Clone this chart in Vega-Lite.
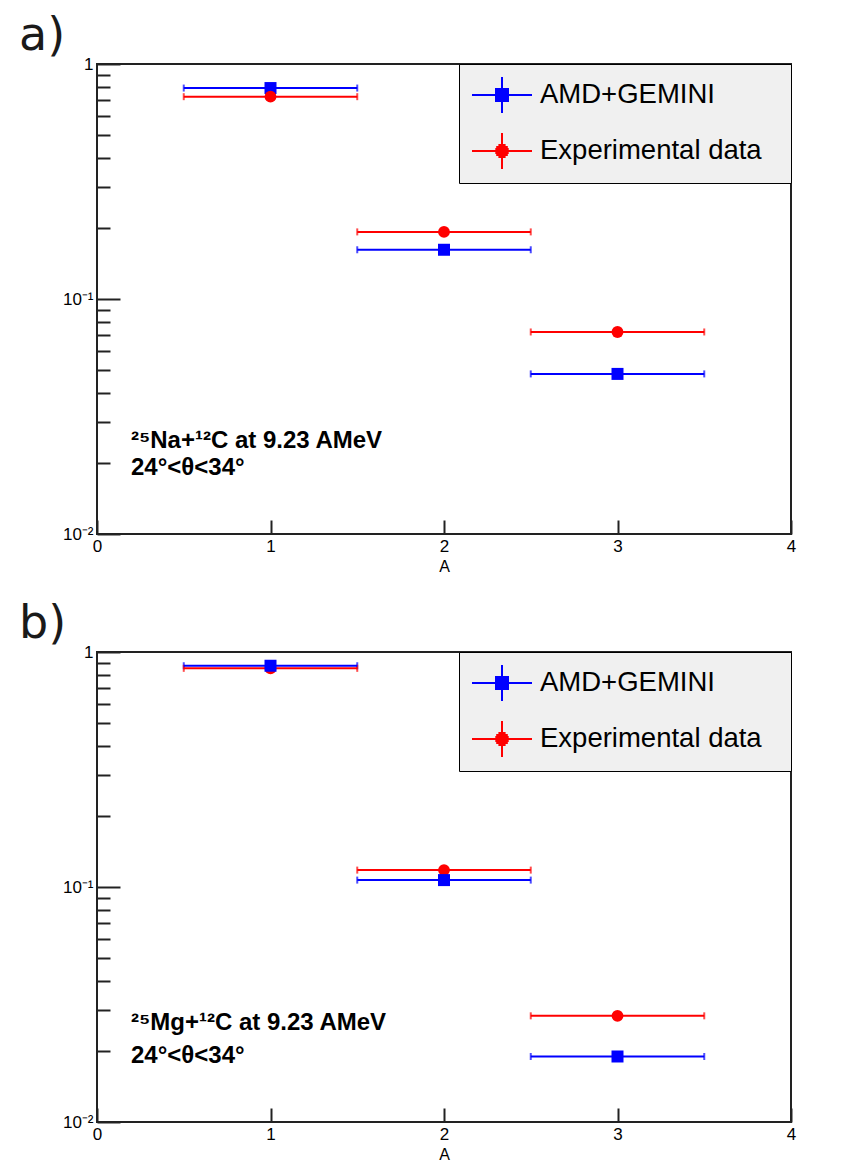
{
  "$schema": "https://vega.github.io/schema/vega-lite/v6.json",
  "background": "white",
  "padding": {"left": 18, "top": 12, "right": 0, "bottom": 0},
  "datasets": {
    "a": [
      {"series": "AMD+GEMINI", "A": 1, "err": 0.5, "v": 0.79},
      {"series": "AMD+GEMINI", "A": 2, "err": 0.5, "v": 0.162},
      {"series": "AMD+GEMINI", "A": 3, "err": 0.5, "v": 0.048},
      {"series": "Experimental data", "A": 1, "err": 0.5, "v": 0.726},
      {"series": "Experimental data", "A": 2, "err": 0.5, "v": 0.193},
      {"series": "Experimental data", "A": 3, "err": 0.5, "v": 0.0724}
    ],
    "b": [
      {"series": "AMD+GEMINI", "A": 1, "err": 0.5, "v": 0.874},
      {"series": "AMD+GEMINI", "A": 2, "err": 0.5, "v": 0.107},
      {"series": "AMD+GEMINI", "A": 3, "err": 0.5, "v": 0.019},
      {"series": "Experimental data", "A": 1, "err": 0.5, "v": 0.852},
      {"series": "Experimental data", "A": 2, "err": 0.5, "v": 0.118},
      {"series": "Experimental data", "A": 3, "err": 0.5, "v": 0.0283}
    ]
  },
  "config": {
    "view": {"stroke": "#222", "strokeWidth": 2},
    "font": "Liberation Sans",
    "title": {"anchor": "start", "frame": "group", "dx": -78, "font": "DejaVu Sans", "fontSize": 46, "fontWeight": "normal", "color": "#1a1a1a", "baseline": "alphabetic", "offset": -5}
  },
  "spacing": 25,
  "resolve": {"scale": {"color": "independent", "shape": "independent"}, "legend": {"color": "independent", "shape": "independent"}},
  "vconcat": [
    {
      "title": "a)",
      "width": 694,
      "height": 470,
      "data": {"name": "a"},
      "layer": [
        {
          "transform": [{"filter": "false"}],
          "mark": {"type": "point", "filled": false, "opacity": 1},
          "encoding": {
            "x": {"field": "A", "type": "quantitative", "scale": {"domain": [0, 4], "nice": false},
              "axis": {"values": [0, 1, 2, 3, 4], "format": "d", "tickSize": -14, "labelPadding": 18, "title": "A", "titleFont": "Liberation Sans", "titleFontSize": 16, "titleFontWeight": "normal", "titleColor": "#000", "titlePadding": 4, "grid": false, "domain": false, "tickWidth": 2, "tickColor": "#222", "labelFont": "Liberation Sans", "labelFontSize": 17, "labelColor": "#000", "labelFlush": false, "labelOverlap": false}},
            "y": {"field": "v", "type": "quantitative", "scale": {"type": "log", "domain": [0.01, 1], "nice": false},
              "axis": {"values": [0.01, 0.02, 0.03, 0.04, 0.05, 0.06, 0.07, 0.08, 0.09, 0.1, 0.2, 0.3, 0.4, 0.5, 0.6, 0.7, 0.8, 0.9, 1],
                "labelExpr": "datum.value == 1 ? '1' : datum.value == 0.1 ? '10⁻¹' : datum.value == 0.01 ? '10⁻²' : ''",
                "tickSize": {"condition": {"test": "datum.value == 1 || datum.value == 0.1 || datum.value == 0.01", "value": -23}, "value": -13},
                "labelPadding": 27, "title": null, "grid": false, "domain": false, "tickWidth": 2, "tickColor": "#222", "labelFont": "Liberation Sans", "labelFontSize": 17, "labelColor": "#000", "labelFlush": false, "labelOverlap": false}},
            "color": {"field": "series", "type": "nominal", "scale": {"domain": ["AMD+GEMINI", "Experimental data"], "range": ["#0000ff", "#ff0000"]},
              "legend": {"orient": "top-right", "offset": 0, "title": "\u00a0", "titleOrient": "right", "titleFontSize": 12, "titlePadding": 19, "fillColor": "#f0f0f0", "strokeColor": "#000", "padding": 10, "symbolSize": 1600, "symbolStrokeWidth": 2, "symbolOffset": 12, "labelOffset": 17, "labelFont": "Liberation Sans", "labelFontSize": 27.5, "labelColor": "#000", "rowPadding": 12, "labelLimit": 400, "symbolOpacity": 1, "encode": {"legend": {"update": {"strokeWidth": {"value": 2}}}}}},
            "shape": {"field": "series", "type": "nominal",
              "scale": {"domain": ["AMD+GEMINI", "Experimental data"], "range": [
                "M-1.5,0H1.5M0,-0.9V0.9M-0.35,-0.3H0.35M-0.35,-0.2H0.35M-0.35,-0.1H0.35M-0.35,0H0.35M-0.35,0.1H0.35M-0.35,0.2H0.35M-0.35,0.3H0.35",
                "M-1.5,0H1.5M0,-0.9V0.9M-0.18,-0.3H0.18M-0.29,-0.2H0.29M-0.335,-0.1H0.335M-0.35,0H0.35M-0.335,0.1H0.335M-0.29,0.2H0.29M-0.18,0.3H0.18"
              ]},
              "legend": {"orient": "top-right", "offset": 0, "title": "\u00a0", "titleOrient": "right", "titleFontSize": 12, "titlePadding": 19, "fillColor": "#f0f0f0", "strokeColor": "#000", "padding": 10, "symbolSize": 1600, "symbolStrokeWidth": 2, "symbolOffset": 12, "labelOffset": 17, "labelFont": "Liberation Sans", "labelFontSize": 27.5, "labelColor": "#000", "rowPadding": 12, "labelLimit": 400, "symbolOpacity": 1, "encode": {"legend": {"update": {"strokeWidth": {"value": 2}}}}}}
          }
        },
        {
          "mark": {"type": "errorbar", "ticks": {"size": 7, "thickness": 2}, "thickness": 2},
          "encoding": {
            "x": {"field": "A", "type": "quantitative"},
            "xError": {"field": "err"},
            "y": {"field": "v", "type": "quantitative"},
            "color": {"field": "series", "type": "nominal", "legend": null}
          }
        },
        {
          "transform": [{"filter": "datum.series == 'AMD+GEMINI'"}],
          "mark": {"type": "point", "shape": "square", "filled": true, "size": 144, "opacity": 1},
          "encoding": {
            "x": {"field": "A", "type": "quantitative"},
            "y": {"field": "v", "type": "quantitative"},
            "color": {"field": "series", "type": "nominal", "legend": null}
          }
        },
        {
          "transform": [{"filter": "datum.series == 'Experimental data'"}],
          "mark": {"type": "point", "shape": "circle", "filled": true, "size": 140, "opacity": 1},
          "encoding": {
            "x": {"field": "A", "type": "quantitative"},
            "y": {"field": "v", "type": "quantitative"},
            "color": {"field": "series", "type": "nominal", "legend": null}
          }
        },
        {
          "data": {"values": [{}]},
          "mark": {"type": "text", "text": "²⁵Na+¹²C at 9.23 AMeV", "align": "left", "baseline": "middle", "font": "Liberation Sans", "fontSize": 24, "fontWeight": "bold", "color": "#000"},
          "encoding": {"x": {"datum": 0.196, "type": "quantitative"}, "y": {"datum": 0.0249, "type": "quantitative"}}
        },
        {
          "data": {"values": [{}]},
          "mark": {"type": "text", "text": "24°<θ<34°", "align": "left", "baseline": "middle", "font": "Liberation Sans", "fontSize": 24, "fontWeight": "bold", "color": "#000"},
          "encoding": {"x": {"datum": 0.196, "type": "quantitative"}, "y": {"datum": 0.0191, "type": "quantitative"}}
        }
      ]
    },
    {
      "title": "b)",
      "width": 694,
      "height": 470,
      "data": {"name": "b"},
      "layer": [
        {
          "transform": [{"filter": "false"}],
          "mark": {"type": "point", "filled": false, "opacity": 1},
          "encoding": {
            "x": {"field": "A", "type": "quantitative", "scale": {"domain": [0, 4], "nice": false},
              "axis": {"values": [0, 1, 2, 3, 4], "format": "d", "tickSize": -14, "labelPadding": 18, "title": "A", "titleFont": "Liberation Sans", "titleFontSize": 16, "titleFontWeight": "normal", "titleColor": "#000", "titlePadding": 4, "grid": false, "domain": false, "tickWidth": 2, "tickColor": "#222", "labelFont": "Liberation Sans", "labelFontSize": 17, "labelColor": "#000", "labelFlush": false, "labelOverlap": false}},
            "y": {"field": "v", "type": "quantitative", "scale": {"type": "log", "domain": [0.01, 1], "nice": false},
              "axis": {"values": [0.01, 0.02, 0.03, 0.04, 0.05, 0.06, 0.07, 0.08, 0.09, 0.1, 0.2, 0.3, 0.4, 0.5, 0.6, 0.7, 0.8, 0.9, 1],
                "labelExpr": "datum.value == 1 ? '1' : datum.value == 0.1 ? '10⁻¹' : datum.value == 0.01 ? '10⁻²' : ''",
                "tickSize": {"condition": {"test": "datum.value == 1 || datum.value == 0.1 || datum.value == 0.01", "value": -23}, "value": -13},
                "labelPadding": 27, "title": null, "grid": false, "domain": false, "tickWidth": 2, "tickColor": "#222", "labelFont": "Liberation Sans", "labelFontSize": 17, "labelColor": "#000", "labelFlush": false, "labelOverlap": false}},
            "color": {"field": "series", "type": "nominal", "scale": {"domain": ["AMD+GEMINI", "Experimental data"], "range": ["#0000ff", "#ff0000"]},
              "legend": {"orient": "top-right", "offset": 0, "title": "\u00a0", "titleOrient": "right", "titleFontSize": 12, "titlePadding": 19, "fillColor": "#f0f0f0", "strokeColor": "#000", "padding": 10, "symbolSize": 1600, "symbolStrokeWidth": 2, "symbolOffset": 12, "labelOffset": 17, "labelFont": "Liberation Sans", "labelFontSize": 27.5, "labelColor": "#000", "rowPadding": 12, "labelLimit": 400, "symbolOpacity": 1, "encode": {"legend": {"update": {"strokeWidth": {"value": 2}}}}}},
            "shape": {"field": "series", "type": "nominal",
              "scale": {"domain": ["AMD+GEMINI", "Experimental data"], "range": [
                "M-1.5,0H1.5M0,-0.9V0.9M-0.35,-0.3H0.35M-0.35,-0.2H0.35M-0.35,-0.1H0.35M-0.35,0H0.35M-0.35,0.1H0.35M-0.35,0.2H0.35M-0.35,0.3H0.35",
                "M-1.5,0H1.5M0,-0.9V0.9M-0.18,-0.3H0.18M-0.29,-0.2H0.29M-0.335,-0.1H0.335M-0.35,0H0.35M-0.335,0.1H0.335M-0.29,0.2H0.29M-0.18,0.3H0.18"
              ]},
              "legend": {"orient": "top-right", "offset": 0, "title": "\u00a0", "titleOrient": "right", "titleFontSize": 12, "titlePadding": 19, "fillColor": "#f0f0f0", "strokeColor": "#000", "padding": 10, "symbolSize": 1600, "symbolStrokeWidth": 2, "symbolOffset": 12, "labelOffset": 17, "labelFont": "Liberation Sans", "labelFontSize": 27.5, "labelColor": "#000", "rowPadding": 12, "labelLimit": 400, "symbolOpacity": 1, "encode": {"legend": {"update": {"strokeWidth": {"value": 2}}}}}}
          }
        },
        {
          "mark": {"type": "errorbar", "ticks": {"size": 7, "thickness": 2}, "thickness": 2},
          "encoding": {
            "x": {"field": "A", "type": "quantitative"},
            "xError": {"field": "err"},
            "y": {"field": "v", "type": "quantitative"},
            "color": {"field": "series", "type": "nominal", "legend": null}
          }
        },
        {
          "transform": [{"filter": "datum.series == 'Experimental data'"}],
          "mark": {"type": "point", "shape": "circle", "filled": true, "size": 140, "opacity": 1},
          "encoding": {
            "x": {"field": "A", "type": "quantitative"},
            "y": {"field": "v", "type": "quantitative"},
            "color": {"field": "series", "type": "nominal", "legend": null}
          }
        },
        {
          "transform": [{"filter": "datum.series == 'AMD+GEMINI'"}],
          "mark": {"type": "point", "shape": "square", "filled": true, "size": 144, "opacity": 1},
          "encoding": {
            "x": {"field": "A", "type": "quantitative"},
            "y": {"field": "v", "type": "quantitative"},
            "color": {"field": "series", "type": "nominal", "legend": null}
          }
        },
        {
          "data": {"values": [{}]},
          "mark": {"type": "text", "text": "²⁵Mg+¹²C at 9.23 AMeV", "align": "left", "baseline": "middle", "font": "Liberation Sans", "fontSize": 24, "fontWeight": "bold", "color": "#000"},
          "encoding": {"x": {"datum": 0.196, "type": "quantitative"}, "y": {"datum": 0.0264, "type": "quantitative"}}
        },
        {
          "data": {"values": [{}]},
          "mark": {"type": "text", "text": "24°<θ<34°", "align": "left", "baseline": "middle", "font": "Liberation Sans", "fontSize": 24, "fontWeight": "bold", "color": "#000"},
          "encoding": {"x": {"datum": 0.196, "type": "quantitative"}, "y": {"datum": 0.019, "type": "quantitative"}}
        }
      ]
    }
  ]
}
